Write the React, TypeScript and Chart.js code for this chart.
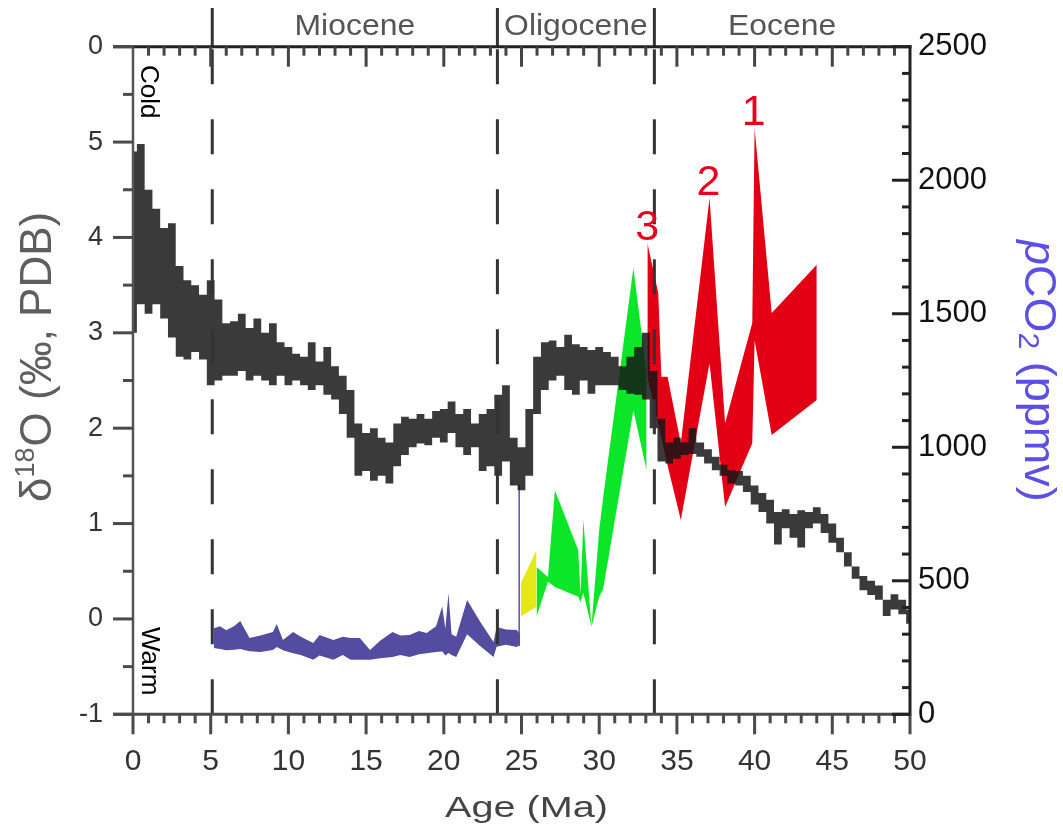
import React, { useEffect, useRef } from 'react';
import { Chart, registerables } from 'chart.js';

Chart.register(...registerables);

const FONT = "'Liberation Sans', Arial, Helvetica, sans-serif";

// ---- δ18O benthic record (upper / lower envelope of the band) ----
const d18oAges = [
  0, 0.5, 1, 1.5, 2, 2.5, 3, 3.5, 4, 4.5,
  5, 5.5, 6, 6.5, 7, 7.5, 8, 8.5, 9, 9.5,
  10, 10.5, 11, 11.5, 12, 12.5, 13, 13.5, 14, 14.5,
  15, 15.5, 16, 16.5, 17, 17.5, 18, 18.5, 19, 19.5,
  20, 20.5, 21, 21.5, 22, 22.5, 23, 23.5, 24, 24.5,
  25, 25.5, 26, 26.5, 27, 27.5, 28, 28.5, 29, 29.5,
  30, 30.5, 31, 31.5, 32, 32.5, 33, 33.5, 34, 34.5,
  35, 35.5, 36, 36.5, 37, 37.5, 38, 38.5, 39, 39.5,
  40, 40.5, 41, 41.5, 42, 42.5, 43, 43.5, 44, 44.5,
  45, 45.5, 46, 46.5, 47, 47.5, 48, 48.5, 49, 49.5,
  50,
];
const d18oUpper = [
  4.9, 4.98, 4.5, 4.3, 4.1, 4.15, 3.7, 3.55, 3.5, 3.4,
  3.55, 3.35, 3.1, 3.12, 3.2, 3.05, 3.15, 3.0, 3.1, 2.9,
  2.85, 2.78, 2.75, 2.9, 2.7, 2.85, 2.65, 2.55, 2.4, 2.05,
  1.95, 2.0, 1.9, 1.85, 2.05, 2.12, 2.1, 2.15, 2.1, 2.18,
  2.2, 2.28, 2.15, 2.2, 2.05, 2.15, 2.2, 2.35, 2.45, 1.9,
  1.8, 2.2, 2.75, 2.9, 2.92, 2.85, 2.98, 2.88, 2.85, 2.82,
  2.85, 2.8, 2.75, 2.65, 2.75, 2.85, 3.0, 2.6, 2.1, 1.85,
  1.9, 1.85, 2.0, 1.85, 1.78, 1.7, 1.62, 1.56, 1.55, 1.5,
  1.4, 1.32, 1.25, 1.12, 1.15, 1.1, 1.14, 1.12, 1.17, 1.1,
  1.0, 0.85, 0.7, 0.55, 0.45, 0.4, 0.35, 0.2, 0.26, 0.2,
  0.1,
];
const d18oLower = [
  3.0, 3.3, 3.2, 3.3, 3.15, 2.95, 2.75, 2.72, 2.8, 2.72,
  2.45, 2.5, 2.55, 2.55, 2.6, 2.5, 2.55, 2.5, 2.45, 2.55,
  2.45, 2.5, 2.45, 2.4, 2.45, 2.35, 2.3, 2.15, 1.9, 1.5,
  1.55, 1.45, 1.5, 1.42, 1.6, 1.72, 1.8, 1.84, 1.82, 1.9,
  1.85, 1.95, 1.8, 1.72, 1.8, 1.55, 1.6, 1.5, 1.65, 1.4,
  1.35, 1.5, 2.15, 2.4, 2.5, 2.55, 2.4, 2.35, 2.5, 2.36,
  2.45, 2.45, 2.45, 2.4, 2.36, 2.35, 2.3, 2.0, 1.65, 1.63,
  1.68, 1.72, 1.73, 1.7, 1.63, 1.56, 1.5, 1.42, 1.4, 1.33,
  1.2, 1.12, 1.0, 0.78, 0.95, 0.85, 0.75, 0.95, 1.0, 0.9,
  0.8, 0.7, 0.55, 0.42, 0.3, 0.25, 0.2, 0.03, 0.1, 0.05,
  -0.05,
];

// ---- pCO2 reconstructions (ppmv) ----
const blueAges = [5.2, 5.6, 6.0, 6.5, 6.9, 7.5, 8.2, 9.0, 9.25, 9.65, 10.3, 10.8, 11.6, 12.0, 12.9, 13.5, 14.0, 14.6, 15.25, 15.9, 16.7, 17.2, 17.8, 18.4, 18.9, 19.5, 19.9, 20.1, 20.3, 20.5, 20.8, 21.5, 22.3, 23.2, 23.4, 24.0, 24.7, 24.9];
const blueUpper = [322, 330, 315, 330, 349, 286, 295, 308, 338, 278, 308, 290, 267, 297, 278, 290, 286, 286, 241, 275, 308, 295, 297, 312, 304, 330, 404, 320, 454, 300, 290, 428, 350, 271, 327, 318, 316, 300];
const blueLower = [248, 245, 240, 242, 245, 236, 233, 241, 252, 240, 229, 222, 204, 220, 204, 222, 204, 204, 204, 210, 215, 222, 215, 225, 229, 233, 235, 220, 230, 222, 215, 300, 258, 215, 253, 260, 252, 262];

const yellowAges = [24.95, 25.97];
const yellowUpper = [490, 615];
const yellowLower = [366, 403];

const greenAges = [25.97, 26.7, 27.15, 28.65, 28.8, 28.98, 29.5, 30.0, 30.26, 32.2, 33.05];
const greenUpper = [552, 514, 839, 615, 450, 728, 328, 690, 815, 1671, 1277];
const greenLower = [365, 496, 477, 440, 420, 455, 328, 440, 470, 1138, 914];

const redAges = [33.1, 33.8, 34.0, 34.4, 35.25, 37.1, 38.1, 39.85, 40.0, 41.1, 44.0];
const redUpper = [1765, 1578, 1264, 1264, 1015, 1933, 1090, 1465, 2195, 1503, 1683];
const redLower = [1264, 1085, 1034, 932, 728, 1315, 776, 1015, 1400, 1046, 1177];

const errBarAges = [24.85, 24.85];
const errBarValues = [255, 860];

// ---- annotations / ticks ----
const epochBoundaries = [5.1, 23.45, 33.55];
const epochNames = ['Miocene', 'Oligocene', 'Eocene'];
const peakNames = ['1', '2', '3'];
const peakAges = [40.0, 37.1, 33.15];
const peakValues = [2195, 1933, 1765];
const d18oTickValues = [-1, 0, 1, 2, 3, 4, 5, 6];
const d18oTickLabels = ['-1', '0', '1', '2', '3', '4', '5', '0'];

const xy = (ages: number[], vals: number[]) => ages.map((a, i) => ({ x: a, y: vals[i] }));

function band(ages: number[], upper: number[], lower: number[], color: string, axis: string, stepped: any = false) {
  return [
    { data: xy(ages, upper), yAxisID: axis, fill: '+1', backgroundColor: color, borderWidth: 0, pointRadius: 0, stepped },
    { data: xy(ages, lower), yAxisID: axis, fill: false, borderWidth: 0, pointRadius: 0, stepped },
  ];
}

function drawText(ctx: CanvasRenderingContext2D, s: string, x: number, y: number, font: string, color: string,
  align: CanvasTextAlign = 'left', rot = 0, sx = 1) {
  ctx.save();
  ctx.translate(x, y);
  ctx.rotate(rot);
  ctx.scale(sx, 1);
  ctx.font = font;
  ctx.fillStyle = color;
  ctx.textAlign = align;
  ctx.textBaseline = 'alphabetic';
  ctx.fillText(s, 0, 0);
  ctx.restore();
}

function seg(ctx: CanvasRenderingContext2D, x1: number, y1: number, x2: number, y2: number, color: string, w: number) {
  ctx.strokeStyle = color;
  ctx.lineWidth = w;
  ctx.beginPath();
  ctx.moveTo(x1, y1);
  ctx.lineTo(x2, y2);
  ctx.stroke();
}

const decorPlugin = {
  id: 'decor',
  afterDatasetsDraw(chart: any) {
    const { ctx, chartArea: a, scales } = chart;
    const sx = scales.x, sy = scales.y, sy2 = scales.y2;
    ctx.save();
    ctx.lineCap = 'butt';

    // epoch boundaries
    for (const age of epochBoundaries) {
      const px = sx.getPixelForValue(age);
      ctx.setLineDash([]);
      seg(ctx, px, 8, px, a.top, '#333', 3);
      ctx.setLineDash([35, 35]);
      seg(ctx, px, a.bottom, px, a.top, '#333', 3);
    }
    ctx.setLineDash([]);

    // axis frame
    seg(ctx, a.left - 20, a.top, a.right + 1.5, a.top, '#222', 3);
    seg(ctx, a.left - 20, a.bottom, a.right, a.bottom, '#4a4a4a', 3);
    seg(ctx, a.left, a.top, a.left, a.bottom, '#555', 2.5);
    seg(ctx, a.right, a.top - 1.5, a.right, a.bottom + 1.5, '#222', 3);

    // x ticks (top inward, bottom outward)
    for (let v = 0; v <= 50; v += 1) {
      const px = sx.getPixelForValue(v);
      const len = v % 5 === 0 ? 20 : 9;
      seg(ctx, px, a.bottom, px, a.bottom + len, '#4a4a4a', 3);
      if (v > 0 && v < 50) seg(ctx, px, a.top, px, a.top + len, '#444', 3);
    }
    // left ticks
    for (let k = -2; k <= 12; k++) {
      const py = sy.getPixelForValue(k / 2);
      const len = k % 2 === 0 ? 20 : 10;
      seg(ctx, a.left - len, py, a.left, py, '#4a4a4a', 3);
    }
    // right ticks
    for (let v = 0; v <= 2500; v += 100) {
      const py = sy2.getPixelForValue(v);
      const len = v % 500 === 0 ? 18 : 8;
      seg(ctx, a.right - len, py, a.right, py, '#222', 3);
    }

    // epoch names
    const bounds = [...epochBoundaries, 50];
    for (let i = 0; i < epochNames.length; i++) {
      const c = sx.getPixelForValue((bounds[i] + bounds[i + 1]) / 2);
      drawText(ctx, epochNames[i], c, 35, `29px ${FONT}`, '#555', 'center', 0, 1.1);
    }

    // peak numbers
    for (let i = 0; i < peakNames.length; i++) {
      const px = sx.getPixelForValue(peakAges[i]);
      const py = sy2.getPixelForValue(peakValues[i]);
      drawText(ctx, peakNames[i], px - 1, py - 3, `43px ${FONT}`, '#e8001c', 'center');
    }

    // Cold / Warm
    drawText(ctx, 'Cold', a.left + 8, 65, `26px ${FONT}`, '#000', 'left', Math.PI / 2);
    drawText(ctx, 'Warm', a.left + 9, 627, `26px ${FONT}`, '#000', 'left', Math.PI / 2);

    // x title
    drawText(ctx, 'Age (Ma)', (a.left + a.right) / 2 + 5, 817, `30px ${FONT}`, '#444', 'center', 0, 1.32);

    // left title: δ18O (‰, PDB)
    {
      ctx.save();
      ctx.translate(51, 502);
      ctx.rotate(-Math.PI / 2);
      ctx.fillStyle = '#5e5e5e';
      ctx.textBaseline = 'alphabetic';
      ctx.textAlign = 'left';
      let x = 0;
      ctx.font = `44px ${FONT}`;
      ctx.fillText('δ', x, 0); x += ctx.measureText('δ').width;
      ctx.font = `27px ${FONT}`;
      ctx.fillText('18', x, -17); x += ctx.measureText('18').width + 1;
      ctx.font = `44px ${FONT}`;
      ctx.fillText('O (‰, PDB)', x, 0);
      ctx.restore();
    }

    // right title: pCO2 (ppmv)
    {
      ctx.save();
      ctx.translate(1025, 240);
      ctx.rotate(Math.PI / 2);
      ctx.fillStyle = '#5b4fe8';
      ctx.textBaseline = 'alphabetic';
      ctx.textAlign = 'left';
      let x = 0;
      ctx.font = `italic 45px ${FONT}`;
      ctx.fillText('p', x, 0); x += ctx.measureText('p').width;
      ctx.font = `45px ${FONT}`;
      ctx.fillText('CO', x, 0); x += ctx.measureText('CO').width;
      ctx.font = `30px ${FONT}`;
      ctx.fillText('2', x, 6); x += ctx.measureText('2').width;
      ctx.font = `45px ${FONT}`;
      ctx.fillText(' (ppmv)', x, 0);
      ctx.restore();
    }

    ctx.restore();
  },
};

export default function App() {
  const ref = useRef<HTMLCanvasElement | null>(null);

  useEffect(() => {
    const canvas = ref.current;
    if (!canvas) return;
    const datasets: any[] = [
      ...band(d18oAges, d18oUpper, d18oLower, 'rgba(22,20,22,0.84)', 'y', 'middle'),
      ...band(redAges, redUpper, redLower, 'rgb(228,0,20)', 'y2'),
      ...band(greenAges, greenUpper, greenLower, 'rgb(12,230,40)', 'y2'),
      ...band(yellowAges, yellowUpper, yellowLower, 'rgb(228,232,20)', 'y2'),
      ...band(blueAges, blueUpper, blueLower, 'rgb(84,76,160)', 'y2'),
      { data: xy(errBarAges, errBarValues), yAxisID: 'y2', fill: false, borderColor: 'rgba(70,62,160,0.9)', borderWidth: 1.5, pointRadius: 0 },
    ];

    const chart = new Chart(canvas, {
      type: 'line',
      data: { datasets },
      options: {
        responsive: false,
        animation: false,
        devicePixelRatio: 1,
        layout: { padding: { top: 46.7, left: 0, right: 0, bottom: 0 } },
        plugins: { legend: { display: false }, tooltip: { enabled: false } },
        scales: {
          x: {
            type: 'linear', position: 'bottom', min: 0, max: 50,
            afterFit: (s: any) => { s.height = 116.7; },
            grid: { display: false, drawTicks: false },
            border: { display: false },
            ticks: { stepSize: 5, autoSkip: false, maxRotation: 0, padding: 29, color: '#333', font: { family: FONT, size: 30 },
              callback: (v: any) => String(v) },
          },
          y: {
            type: 'linear', position: 'left', min: -1, max: 6,
            afterFit: (s: any) => { s.width = 133; },
            grid: { display: false, drawTicks: false },
            border: { display: false },
            afterBuildTicks: (s: any) => { s.ticks = d18oTickValues.map((v) => ({ value: v })); },
            ticks: {
              padding: 30, color: '#333', font: { family: FONT, size: 27 },
              callback: (v: any) => d18oTickLabels[d18oTickValues.indexOf(Number(v))] ?? '',
            },
          },
          y2: {
            type: 'linear', position: 'right', min: 0, max: 2500,
            afterFit: (s: any) => { s.width = 153; },
            grid: { display: false, drawTicks: false },
            border: { display: false },
            ticks: { stepSize: 500, padding: 8, color: '#111', font: { family: FONT, size: 31 },
              callback: (v: any) => String(v) },
          },
        },
      },
      plugins: [decorPlugin],
    });
    return () => chart.destroy();
  }, []);

  return (
    <div style={{ position: 'fixed', left: 0, top: 0, width: 1063, height: 831, background: '#fff' }}>
      <canvas ref={ref} width={1063} height={831} style={{ display: 'block', width: 1063, height: 831 }} />
    </div>
  );
}
